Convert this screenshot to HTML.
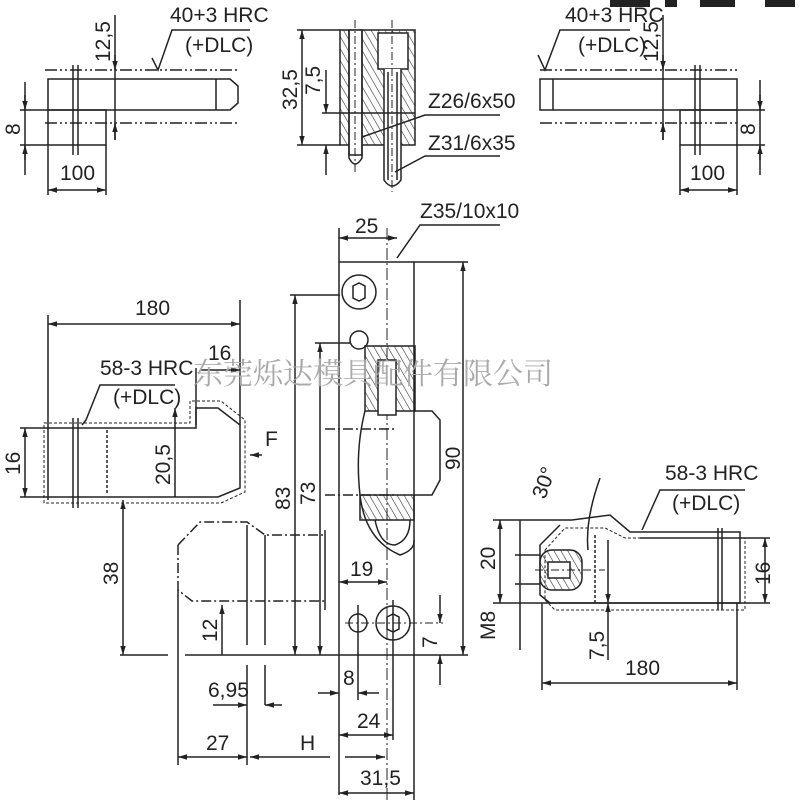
<!DOCTYPE html>
<html><head><meta charset="utf-8"><style>
html,body{margin:0;padding:0;background:#fff}
svg{display:block}
text{font-family:"Liberation Sans Narrow","Liberation Sans",sans-serif;fill:#222}
</style></head><body>
<svg width="800" height="800" viewBox="0 0 800 800" xmlns="http://www.w3.org/2000/svg">
<defs>
<marker id="a" viewBox="0 0 10 10" refX="10" refY="5" markerWidth="8" markerHeight="6" orient="auto-start-reverse"><path d="M0,2 L10,5 L0,8z" fill="#222"/></marker>
<pattern id="h" width="6" height="6" patternUnits="userSpaceOnUse" patternTransform="rotate(-30)"><line x1="0" y1="0" x2="0" y2="6" stroke="#333" stroke-width="1.2"/></pattern>
</defs>
<g stroke="#222" stroke-width="1.5" fill="none">
<!-- top-left view -->
<line x1="45" y1="70" x2="240" y2="70" stroke-dasharray="12,3,2,3,2,3"/>
<line x1="45" y1="123" x2="240" y2="123" stroke-dasharray="12,3,2,3,2,3"/>
<path d="M48,79 H230 L238,86 V103 L230,110 H48 Z"/>
<line x1="216" y1="79" x2="216" y2="110"/>
<path d="M20,110 H106 V145 H20"/>
<line x1="48" y1="110" x2="48" y2="195"/>
<line x1="106" y1="145" x2="106" y2="195"/>
<line x1="73" y1="65" x2="73" y2="155"/><line x1="78" y1="65" x2="78" y2="155"/>
<line x1="115" y1="15" x2="115" y2="140"/>
<line x1="115" y1="55" x2="115" y2="70" marker-end="url(#a)"/>
<line x1="115" y1="140" x2="115" y2="123" marker-end="url(#a)"/>
<line x1="25" y1="82" x2="25" y2="175"/>
<line x1="25" y1="95" x2="25" y2="110" marker-end="url(#a)"/>
<line x1="25" y1="160" x2="25" y2="145" marker-end="url(#a)"/>
<line x1="48" y1="190" x2="106" y2="190" marker-start="url(#a)" marker-end="url(#a)"/>
<path d="M152,58 L158,70 L172,30 H250"/>
<!-- top-right view -->
<line x1="540" y1="70" x2="737" y2="70" stroke-dasharray="12,3,2,3,2,3"/>
<line x1="540" y1="123" x2="737" y2="123" stroke-dasharray="12,3,2,3,2,3"/>
<path d="M540,79 H737 V110 H540 Z"/>
<line x1="553" y1="79" x2="553" y2="110"/>
<path d="M765,110 H680 V145 H765"/>
<line x1="680" y1="145" x2="680" y2="195"/><line x1="737" y1="110" x2="737" y2="195"/>
<line x1="695" y1="65" x2="695" y2="155"/><line x1="700" y1="65" x2="700" y2="155"/>
<line x1="663" y1="15" x2="663" y2="140"/>
<line x1="663" y1="55" x2="663" y2="70" marker-end="url(#a)"/>
<line x1="663" y1="140" x2="663" y2="123" marker-end="url(#a)"/>
<line x1="760" y1="80" x2="760" y2="175"/>
<line x1="760" y1="95" x2="760" y2="110" marker-end="url(#a)"/>
<line x1="760" y1="160" x2="760" y2="145" marker-end="url(#a)"/>
<line x1="680" y1="190" x2="737" y2="190" marker-start="url(#a)" marker-end="url(#a)"/>
<path d="M538,55 L545,70 L560,30 H630"/>
<!-- top-center pins -->
<rect x="340" y="30" width="75" height="115" fill="url(#h)"/>
<rect x="349" y="30" width="13" height="125" fill="#fff"/>
<path d="M349,30 V158 Q355,170 362,158 V30"/>
<rect x="378" y="33" width="30" height="36" fill="#fff"/>
<rect x="384" y="69" width="17" height="120" fill="#fff" stroke="none"/>
<path d="M384,69 V180 Q392,192 401,180 V69"/>
<line x1="388" y1="72" x2="388" y2="180"/><line x1="397" y1="72" x2="397" y2="180"/>
<line x1="355" y1="20" x2="355" y2="175" stroke-dasharray="8,3,2,3" stroke-width="1"/>
<line x1="392" y1="20" x2="392" y2="192" stroke-dasharray="8,3,2,3" stroke-width="1"/>
<line x1="340" y1="113" x2="415" y2="113"/>
<line x1="297" y1="30" x2="340" y2="30"/><line x1="297" y1="145" x2="340" y2="145"/>
<line x1="302" y1="30" x2="302" y2="145" marker-start="url(#a)" marker-end="url(#a)"/>
<line x1="322" y1="113" x2="340" y2="113"/>
<line x1="326" y1="70" x2="326" y2="113" marker-end="url(#a)"/>
<line x1="326" y1="175" x2="326" y2="145" marker-end="url(#a)"/>
<path d="M362,137 L425,115 H500"/>
<path d="M395,172 L425,156 H500"/>
<!-- center plate -->
<line x1="339" y1="228" x2="339" y2="795"/>
<line x1="414" y1="262" x2="414" y2="800"/>
<line x1="387" y1="228" x2="387" y2="800" stroke-dasharray="12,3,2,3" stroke-width="1"/>
<line x1="339" y1="262" x2="468" y2="262"/>
<line x1="339" y1="238" x2="397" y2="238" marker-start="url(#a)" marker-end="url(#a)"/>
<path d="M397,258 L420,225 H500"/>
<circle cx="359" cy="292" r="17"/>
<path d="M353,286 L359,283 L365,286 V298 L359,301 L353,298 Z"/>
<circle cx="359" cy="340" r="9"/>
<rect x="365" y="346" width="50" height="65" fill="url(#h)"/>
<rect x="378" y="360" width="18" height="55" fill="#fff"/>
<path d="M365,411 Q355,450 360,495 Q365,540 400,555 Q415,550 414,540"/>
<path d="M414,411 L432,411 L440,420 V480 L432,495 L414,495"/>
<rect x="360" y="495" width="54" height="25" fill="url(#h)"/>
<path d="M375,520 Q380,545 395,545 Q410,540 410,520"/>
<line x1="290" y1="295" x2="340" y2="295"/>
<line x1="315" y1="343" x2="350" y2="343"/>
<line x1="295" y1="295" x2="295" y2="655" marker-start="url(#a)" marker-end="url(#a)"/>
<line x1="320" y1="343" x2="320" y2="655" marker-start="url(#a)" marker-end="url(#a)"/>
<line x1="463" y1="262" x2="463" y2="655" marker-start="url(#a)" marker-end="url(#a)"/>
<line x1="325" y1="429" x2="395" y2="429" stroke-dasharray="10,3,2,3"/>
<line x1="325" y1="495" x2="395" y2="495" stroke-dasharray="10,3,2,3"/>
<line x1="339" y1="582" x2="387" y2="582" marker-start="url(#a)" marker-end="url(#a)"/>
<circle cx="358" cy="623" r="9"/>
<circle cx="393" cy="623" r="17"/>
<path d="M387,617 L393,614 L399,617 V629 L393,632 L387,629 Z"/>
<line x1="345" y1="623" x2="443" y2="623" stroke-dasharray="8,3,2,3" stroke-width="1"/>
<line x1="358" y1="605" x2="358" y2="700"/>
<line x1="393" y1="600" x2="393" y2="740"/>
<line x1="440" y1="595" x2="440" y2="623" marker-end="url(#a)"/>
<line x1="440" y1="685" x2="440" y2="655" marker-end="url(#a)"/>
<line x1="120" y1="655" x2="168" y2="655"/><line x1="185" y1="655" x2="468" y2="655"/>
<line x1="318" y1="693" x2="339" y2="693" marker-end="url(#a)"/>
<line x1="379" y1="693" x2="358" y2="693" marker-end="url(#a)"/>
<line x1="339" y1="735" x2="393" y2="735" marker-start="url(#a)" marker-end="url(#a)"/>
<line x1="339" y1="793" x2="414" y2="793" marker-start="url(#a)" marker-end="url(#a)"/>
<!-- bottom-left part -->
<path d="M178,545 L200,522 H247 L265,535 H325" stroke-dasharray="10,3,2,3"/>
<path d="M178,545 V590 L192,601 H325" stroke-dasharray="10,3,2,3"/>
<line x1="178" y1="590" x2="178" y2="765"/>
<line x1="247" y1="525" x2="247" y2="645"/><line x1="265" y1="535" x2="265" y2="645"/>
<line x1="325" y1="530" x2="325" y2="610"/>
<line x1="222" y1="605" x2="222" y2="655" marker-start="url(#a)"/>
<line x1="123" y1="500" x2="123" y2="655" marker-start="url(#a)" marker-end="url(#a)"/>
<line x1="247" y1="665" x2="247" y2="765"/><line x1="265" y1="665" x2="265" y2="705"/>
<line x1="213" y1="705" x2="247" y2="705" marker-end="url(#a)"/>
<line x1="282" y1="705" x2="265" y2="705" marker-end="url(#a)"/>
<line x1="178" y1="757" x2="247" y2="757" marker-start="url(#a)" marker-end="url(#a)"/>
<line x1="330" y1="757" x2="250" y2="757" marker-end="url(#a)"/>
<line x1="345" y1="757" x2="385" y2="757" marker-end="url(#a)"/>
<!-- left-middle part -->
<line x1="48" y1="315" x2="48" y2="500"/>
<line x1="240" y1="300" x2="240" y2="425"/>
<line x1="48" y1="324" x2="240" y2="324" marker-start="url(#a)" marker-end="url(#a)"/>
<line x1="196" y1="368" x2="196" y2="425"/>
<line x1="200" y1="370" x2="240" y2="370" marker-end="url(#a)"/>
<path d="M20,428 H196 V408 H218 L240,425 V488 L218,497 H20"/>
<path d="M44,423 H190 V401 H221 L245,420 V492 L221,503 H44 Z" stroke-dasharray="3,2" stroke-width="1"/>
<line x1="107" y1="430" x2="107" y2="495" stroke-dasharray="3,2"/>
<line x1="73" y1="418" x2="73" y2="508"/><line x1="78" y1="418" x2="78" y2="508"/>
<line x1="25" y1="428" x2="25" y2="497" marker-start="url(#a)" marker-end="url(#a)"/>
<line x1="175" y1="408" x2="175" y2="497" marker-start="url(#a)"/>
<line x1="262" y1="455" x2="250" y2="455" marker-end="url(#a)"/>
<path d="M82,425 L86,420 L100,385 H175"/>
<!-- right part -->
<path d="M493,520 H572 L610,515 L630,532 H740 V603 H550 L540,595 V545 L560,525" />
<path d="M545,550 L565,528 H605 L625,538 H745 V610 H555 L545,600 Z" stroke-dasharray="3,2" stroke-width="1"/>
<line x1="595" y1="535" x2="595" y2="603" stroke-dasharray="3,2"/>
<line x1="718" y1="528" x2="718" y2="610"/><line x1="722" y1="528" x2="722" y2="610"/>
<rect x="540" y="550" width="42" height="40" rx="12" fill="url(#h)"/>
<rect x="548" y="562" width="22" height="16" fill="#fff"/>
<line x1="515" y1="555" x2="540" y2="555"/><line x1="515" y1="584" x2="540" y2="584"/>
<line x1="535" y1="570" x2="605" y2="570" stroke-dasharray="8,3,2,3" stroke-width="1"/>
<line x1="493" y1="603" x2="770" y2="603"/>
<line x1="640" y1="538" x2="770" y2="538"/>
<line x1="500" y1="520" x2="500" y2="603" marker-start="url(#a)" marker-end="url(#a)"/>
<line x1="765" y1="538" x2="765" y2="603" marker-start="url(#a)" marker-end="url(#a)"/>
<line x1="520" y1="520" x2="520" y2="650"/>
<line x1="608" y1="540" x2="608" y2="603" marker-end="url(#a)"/>
<line x1="608" y1="660" x2="608" y2="603" marker-end="url(#a)"/>
<line x1="542" y1="603" x2="542" y2="690"/><line x1="737" y1="603" x2="737" y2="690"/>
<line x1="542" y1="683" x2="737" y2="683" marker-start="url(#a)" marker-end="url(#a)"/>
<path d="M600,478 Q585,520 588,550"/>
<path d="M642,530 L660,490 H745"/>
</g>
<g font-size="21">
<text x="170" y="22">40+3 HRC</text><text x="185" y="52">(+DLC)</text>
<text x="565" y="22">40+3 HRC</text><text x="578" y="52">(+DLC)</text>
<text x="60" y="180">100</text><text x="690" y="180">100</text>
<text transform="translate(110,62) rotate(-90)">12,5</text>
<text transform="translate(658,62) rotate(-90)">12,5</text>
<text transform="translate(20,135) rotate(-90)">8</text>
<text transform="translate(755,135) rotate(-90)">8</text>
<text transform="translate(297,110) rotate(-90)">32,5</text>
<text transform="translate(320,95) rotate(-90)">7,5</text>
<text x="428" y="108">Z26/6x50</text><text x="428" y="150">Z31/6x35</text>
<text x="420" y="218">Z35/10x10</text>
<text x="355" y="233">25</text>
<text x="135" y="315">180</text>
<text x="208" y="360">16</text>
<text x="100" y="375">58-3 HRC</text><text x="113" y="404">(+DLC)</text>
<text transform="translate(20,475) rotate(-90)">16</text>
<text transform="translate(170,485) rotate(-90)">20,5</text>
<text x="265" y="446">F</text>
<text transform="translate(290,510) rotate(-90)">83</text>
<text transform="translate(315,505) rotate(-90)">73</text>
<text transform="translate(460,470) rotate(-90)">90</text>
<text x="350" y="576">19</text>
<text transform="translate(118,585) rotate(-90)">38</text>
<text transform="translate(217,642) rotate(-90)">12</text>
<text transform="translate(437,648) rotate(-90)">7</text>
<text x="343" y="685">8</text>
<text x="208" y="697">6,95</text>
<text x="357" y="728">24</text>
<text x="206" y="750">27</text>
<text x="300" y="750">H</text>
<text x="360" y="785">31,5</text>
<text transform="translate(545,500) rotate(-70)">30°</text>
<text x="665" y="480">58-3 HRC</text><text x="672" y="510">(+DLC)</text>
<text transform="translate(495,570) rotate(-90)">20</text>
<text transform="translate(770,585) rotate(-90)">16</text>
<text transform="translate(495,640) rotate(-90)">M8</text>
<text transform="translate(604,660) rotate(-90)">7,5</text>
<text x="625" y="675">180</text>
</g>
<text x="193" y="384" font-size="30" style="font-family:'Noto Serif CJK SC','Noto Sans CJK SC',serif;fill:#aaa">东莞烁达模具配件有限公司</text>
<rect x="610" y="0" width="40" height="7" fill="#222"/><rect x="665" y="0" width="12" height="7" fill="#222"/><rect x="700" y="0" width="35" height="7" fill="#222"/><rect x="765" y="0" width="30" height="7" fill="#222"/>
</svg>
</body></html>
